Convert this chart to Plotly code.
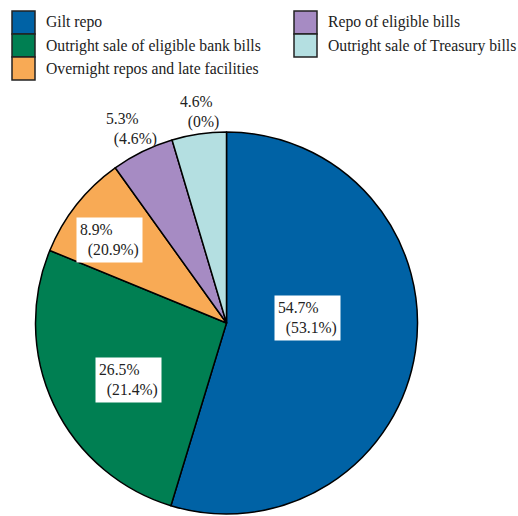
import plotly.graph_objects as go

# Shares of operations (current period) and previous period in brackets
categories = [
    "Gilt repo",
    "Outright sale of eligible bank bills",
    "Overnight repos and late facilities",
    "Repo of eligible bills",
    "Outright sale of Treasury bills",
]
current_share = [54.7, 26.5, 8.9, 5.3, 4.6]
previous_share = [53.1, 21.4, 20.9, 4.6, 0]

colors = ["#0062A5", "#007F52", "#F8AA55", "#A68BC3", "#B4DFE1"]

W, H = 518, 516
FONT = dict(family="Liberation Serif, Times New Roman, serif", size=15.7, color="#222222")


def px_x(x):
    return x / W


def px_y(y):
    return 1 - y / H


fig = go.Figure(
    go.Pie(
        labels=categories,
        values=current_share,
        sort=False,
        direction="clockwise",
        rotation=0,
        textinfo="none",
        hoverinfo="label+percent",
        marker=dict(colors=colors, line=dict(color="#000000", width=1.5)),
        domain=dict(x=[px_x(34), px_x(419)], y=[px_y(514), px_y(132)]),
        showlegend=False,
    )
)

# Slice labels: centre of each text block (pixels) and whether it sits on a white box
label_pos = [(307, 318), (128, 380), (109, 240), (131, 129), (199, 112)]
label_box = [True, True, True, False, False]

annotations = []
for cur, prev, (lx, ly), boxed in zip(current_share, previous_share, label_pos, label_box):
    annotations.append(
        dict(
            x=px_x(lx), y=px_y(ly), xref="paper", yref="paper",
            xanchor="center", yanchor="middle",
            text=f"{cur:g}%<br>\u00a0\u00a0({prev:g}%)",
            align="left",
            showarrow=False,
            font=FONT,
            bgcolor="#FFFFFF" if boxed else "rgba(0,0,0,0)",
            borderpad=3,
        )
    )

# Two-column legend with stacked square swatches
legend_cols = [(12, 44), (12, 44), (12, 44), (294, 326), (294, 326)]
legend_rows = [0, 1, 2, 0, 1]
shapes = []
sw = 23
top = 11
for name, col, (sx, tx), row in zip(categories, colors, legend_cols, legend_rows):
    y0 = top + row * sw
    shapes.append(
        dict(
            type="rect", xref="paper", yref="paper",
            x0=px_x(sx), x1=px_x(sx + sw), y0=px_y(y0), y1=px_y(y0 + sw),
            fillcolor=col, line=dict(color="#222222", width=1.5), layer="above",
        )
    )
    annotations.append(
        dict(
            x=px_x(tx), y=px_y(y0 + sw / 2), xref="paper", yref="paper",
            xanchor="left", yanchor="middle", text=name, showarrow=False,
            font=FONT,
        )
    )

fig.update_layout(
    width=W, height=H,
    margin=dict(l=0, r=0, t=0, b=0),
    paper_bgcolor="#FFFFFF",
    plot_bgcolor="#FFFFFF",
    annotations=annotations,
    shapes=shapes,
)

fig.write_html("out.html")
